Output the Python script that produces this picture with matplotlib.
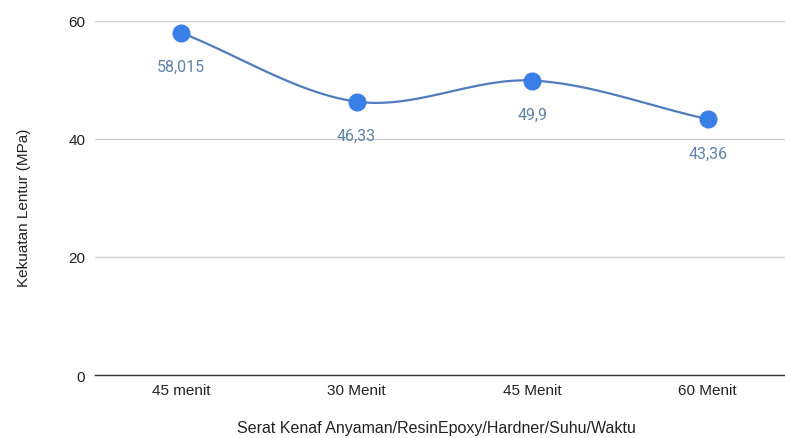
import numpy as np
import matplotlib
matplotlib.use("Agg")
from matplotlib import pyplot as plt

plt.rcParams['font.family'] = ['Liberation Sans', 'DejaVu Sans']

kategori = ["45 menit", "30 Menit", "45 Menit", "60 Menit"]
kekuatan = [58.015, 46.33, 49.9, 43.36]
label_nilai = ["58,015", "46,33", "49,9", "43,36"]


def catmull_rom(xs, ys, n=40):
    # kurva halus lewat semua titik (Catmull-Rom)
    px = np.concatenate([[2 * xs[0] - xs[1]], xs, [2 * xs[-1] - xs[-2]]])
    py = np.concatenate([[2 * ys[0] - ys[1]], ys, [2 * ys[-1] - ys[-2]]])
    out_x, out_y = [], []
    t = np.linspace(0, 1, n)
    for i in range(1, len(px) - 2):
        for p, out in ((px, out_x), (py, out_y)):
            p0, p1, p2, p3 = p[i - 1], p[i], p[i + 1], p[i + 2]
            out.extend(0.5 * ((2 * p1) + (-p0 + p2) * t
                              + (2 * p0 - 5 * p1 + 4 * p2 - p3) * t ** 2
                              + (-p0 + 3 * p1 - 3 * p2 + p3) * t ** 3))
    return np.array(out_x), np.array(out_y)


x = np.arange(len(kategori))
y = np.array(kekuatan)

fig = plt.figure(figsize=(7.85, 4.39), dpi=100)
ax = fig.add_axes([0.121, 0.1435, 0.879, 0.8065])

cx, cy = catmull_rom(x.astype(float), y)
ax.plot(cx, cy, color="#4f7cbf", linewidth=1.6, zorder=3)
ax.plot(x, y, "o", color="#3a7ee8", markersize=12, zorder=4)

for xi, yi, lab in zip(x, y, label_nilai):
    ax.annotate(lab, (xi, yi), xytext=(0, -24.5), textcoords="offset points",
                ha="center", va="center", fontsize=11.5, color="#5f82aa",
                family=['Roboto', 'DejaVu Sans'])

ax.set_ylim(0, 60)
ax.set_xlim(-0.49, 3.44)
ax.set_yticks([0, 20, 40, 60])
ax.set_xticks(x)
ax.set_xticklabels(kategori)
ax.grid(axis="y", color="#cccccc", linewidth=0.9)
ax.set_axisbelow(True)
for s in ["top", "right", "left"]:
    ax.spines[s].set_visible(False)
ax.spines["bottom"].set_color("#333333")
ax.spines["bottom"].set_linewidth(1.0)
ax.tick_params(axis="both", length=0, labelsize=11, colors="#222222")
ax.tick_params(axis="y", pad=7)
ax.tick_params(axis="x", pad=6)

fig.text(0.556, 0.025, "Serat Kenaf Anyaman/ResinEpoxy/Hardner/Suhu/Waktu",
         ha="center", va="center", fontsize=11.5, color="#222222")
fig.text(0.03, 0.526, "Kekuatan Lentur (MPa)", rotation=90,
         ha="center", va="center", fontsize=11, color="#222222")

fig.savefig("out.png", dpi=100)
